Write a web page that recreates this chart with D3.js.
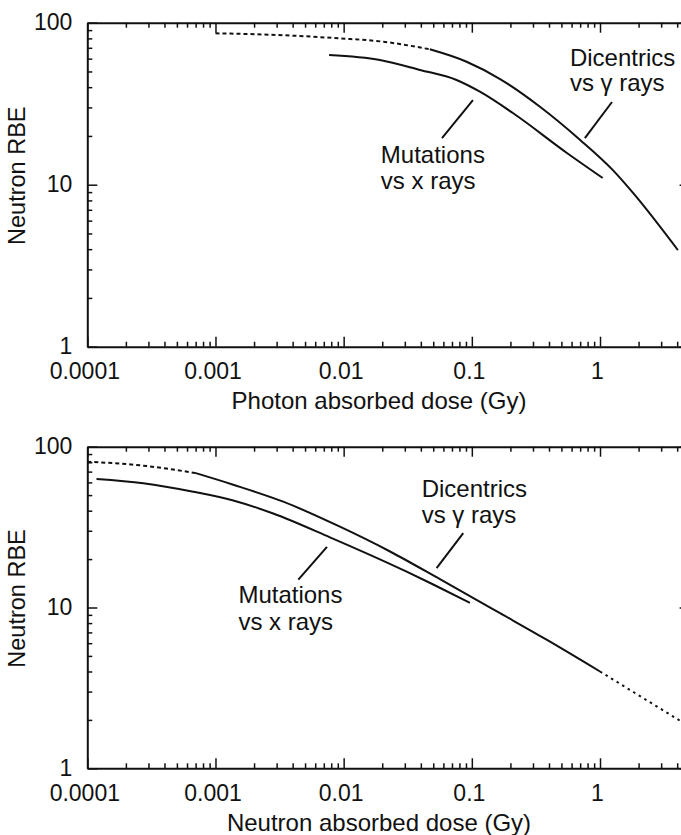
<!DOCTYPE html>
<html>
<head>
<meta charset="utf-8">
<script src="https://cdn.jsdelivr.net/npm/d3@7"></script>
<style>
  html, body { margin: 0; padding: 0; background: #fff; }
  svg { display: block; }
  text { font-family: "Liberation Sans", Arial, sans-serif; fill: #111; }
</style>
</head>
<body>
<svg id="chart" width="681" height="835"></svg>
<script>
// ---------- DATA ----------
const xTickValues = [0.0001, 0.001, 0.01, 0.1, 1];
const xTickLabels = ["0.0001", "0.001", "0.01", "0.1", "1"];
const yTickValues = [1, 10, 100];
const yTickLabels = ["1", "10", "100"];

// Top panel: photon absorbed dose
const topDicDashX = [0.001, 0.003, 0.0094, 0.0204, 0.047];
const topDicDashY = [86, 84, 80, 76.3, 68.5];
const topDicX = [0.047, 0.091, 0.166, 0.34, 0.70, 1.26, 1.81, 4.05];
const topDicY = [68.5, 57.4, 44.9, 30.3, 18.9, 12.3, 8.9, 3.95];
const topMutX = [0.0077, 0.0192, 0.0394, 0.076, 0.1156, 0.209, 0.552, 1.05];
const topMutY = [63.2, 58.9, 51.1, 44.3, 37.5, 27.7, 15.7, 11.0];

// Bottom panel: neutron absorbed dose
const botDicDashX = [0.0001, 0.000273, 0.000692];
const botDicDashY = [80.7, 76.2, 68.7];
const botDicX = [0.000692, 0.001377, 0.00338, 0.00935, 0.0230, 0.0564, 0.166, 0.383, 1.0];
const botDicY = [68.7, 58.0, 45.5, 31.8, 22.3, 15.0, 9.22, 6.31, 4.0];
const botDicDotX = [1.0, 4.28];
const botDicDotY = [4.0, 1.96];
const botMutX = [0.000118, 0.000273, 0.000671, 0.001377, 0.00282, 0.00782, 0.031, 0.05, 0.0966];
const botMutY = [63.0, 59.3, 52.5, 46.3, 38.4, 27.3, 16.7, 13.9, 10.7];

// Annotations (data coordinates)
const topLabels = [
  { lines: ["Dicentrics", "vs \u03b3 rays"], x: 0.582, y: 54.3 },
  { lines: ["Mutations", "vs x rays"], x: 0.0195, y: 13.55 }
];
const topLeaders = [
  { x1: 1.24, y1: 32.4, x2: 0.762, y2: 19.4 },
  { x1: 0.102, y1: 33.3, x2: 0.0585, y2: 19.4 }
];
const botLabels = [
  { lines: ["Dicentrics", "vs \u03b3 rays"], x: 0.0406, y: 48.9 },
  { lines: ["Mutations", "vs x rays"], x: 0.00151, y: 10.65 }
];
const botLeaders = [
  { x1: 0.0857, y1: 29.0, x2: 0.0531, y2: 17.6 },
  { x1: 0.00741, y1: 23.8, x2: 0.00443, y2: 14.9 }
];

const panels = [
  {
    top: 22.7, bottom: 346.7, xTitle: "Photon absorbed dose (Gy)",
    series: [
      { x: topDicDashX, y: topDicDashY, dash: "4,3" },
      { x: topDicX, y: topDicY, dash: null },
      { x: topMutX, y: topMutY, dash: null }
    ],
    labels: topLabels, leaders: topLeaders, lineGap: 25.5
  },
  {
    top: 446.7, bottom: 768.3, xTitle: "Neutron absorbed dose (Gy)",
    series: [
      { x: botDicDashX, y: botDicDashY, dash: "4,3" },
      { x: botDicX, y: botDicY, dash: null },
      { x: botDicDotX, y: botDicDotY, dash: "2.5,4" },
      { x: botMutX, y: botMutY, dash: null }
    ],
    labels: botLabels, leaders: botLeaders, lineGap: 26.7
  }
];

// ---------- DRAW ----------
const svg = d3.select("#chart");
svg.append("rect").attr("width", 681).attr("height", 835).attr("fill", "#fff");

const left = 87.3, right = 689.6;
const xDomain = [0.0001, 5];
const yDomain = [1, 100];
const FONT = '"Liberation Sans", Arial, sans-serif';

function minorTicks(lo, hi) {
  const out = [];
  for (let d = lo; d < hi; d *= 10) {
    for (let k = 2; k <= 9; k++) out.push(d * k);
  }
  return out;
}
const xMinor = minorTicks(0.0001, 10).filter(v => v <= 5);
const yMinor = minorTicks(1, 100);

panels.forEach(p => {
  const x = d3.scaleLog().domain(xDomain).range([left, right]);
  const y = d3.scaleLog().domain(yDomain).range([p.bottom, p.top]);
  const g = svg.append("g");

  function styleAxis(sel) {
    sel.select(".domain").attr("stroke", "#111").attr("stroke-width", 2);
    sel.selectAll(".tick line").attr("stroke", "#111").attr("stroke-width", 1.5);
  }

  // Bottom axis (ticks inward)
  const xb = g.append("g").attr("transform", `translate(0,${p.bottom})`)
    .call(d3.axisBottom(x).tickValues(xTickValues).tickSizeInner(-10).tickSizeOuter(0)
      .tickFormat((d, i) => xTickLabels[i]));
  styleAxis(xb);
  xb.selectAll(".tick text").attr("y", 32.5).attr("dy", 0).attr("x", -3)
    .attr("font-size", 23).style("font-family", FONT).attr("fill", "#111");
  const xbm = g.append("g").attr("transform", `translate(0,${p.bottom})`)
    .call(d3.axisBottom(x).tickValues(xMinor).tickSizeInner(-5).tickSizeOuter(0).tickFormat(""));
  styleAxis(xbm);
  xbm.select(".domain").remove();

  // Top axis
  const xt = g.append("g").attr("transform", `translate(0,${p.top})`)
    .call(d3.axisTop(x).tickValues(xTickValues).tickSizeInner(-10).tickSizeOuter(0).tickFormat(""));
  styleAxis(xt);
  const xtm = g.append("g").attr("transform", `translate(0,${p.top})`)
    .call(d3.axisTop(x).tickValues(xMinor).tickSizeInner(-5).tickSizeOuter(0).tickFormat(""));
  styleAxis(xtm);
  xtm.select(".domain").remove();

  // Left axis
  const yl = g.append("g").attr("transform", `translate(${left},0)`)
    .call(d3.axisLeft(y).tickValues(yTickValues).tickSizeInner(-10).tickSizeOuter(0)
      .tickFormat((d, i) => yTickLabels[i]));
  styleAxis(yl);
  yl.selectAll(".tick text").attr("x", -15).attr("dy", "0.3em")
    .attr("font-size", 23).style("font-family", FONT).attr("fill", "#111");
  const ylm = g.append("g").attr("transform", `translate(${left},0)`)
    .call(d3.axisLeft(y).tickValues(yMinor).tickSizeInner(-5).tickSizeOuter(0).tickFormat(""));
  styleAxis(ylm);
  ylm.select(".domain").remove();

  // Right axis
  const yr = g.append("g").attr("transform", `translate(${right},0)`)
    .call(d3.axisRight(y).tickValues(yTickValues).tickSizeInner(-10).tickSizeOuter(0).tickFormat(""));
  styleAxis(yr);
  const yrm = g.append("g").attr("transform", `translate(${right},0)`)
    .call(d3.axisRight(y).tickValues(yMinor).tickSizeInner(-5).tickSizeOuter(0).tickFormat(""));
  styleAxis(yrm);
  yrm.select(".domain").remove();

  // Axis titles
  g.append("text").attr("x", 379).attr("y", p.bottom + 62.5)
    .attr("text-anchor", "middle").attr("font-size", 24).text(p.xTitle);
  const cy = (p.top + p.bottom) / 2 - 9;
  g.append("text").attr("transform", `translate(25,${cy}) rotate(-90)`)
    .attr("text-anchor", "middle").attr("font-size", 23.5).text("Neutron RBE");

  // Curves
  const line = d3.line().curve(d3.curveMonotoneX).x(d => x(d[0])).y(d => y(d[1]));
  p.series.forEach(s => {
    const pts = s.x.map((v, i) => [v, s.y[i]]);
    g.append("path").attr("d", line(pts)).attr("fill", "none")
      .attr("stroke", "#111").attr("stroke-width", 2)
      .attr("stroke-dasharray", s.dash);
  });

  // Leader lines
  p.leaders.forEach(l => {
    g.append("line").attr("x1", x(l.x1)).attr("y1", y(l.y1))
      .attr("x2", x(l.x2)).attr("y2", y(l.y2))
      .attr("stroke", "#111").attr("stroke-width", 2);
  });

  // Labels
  p.labels.forEach(lb => {
    const t = g.append("text").attr("x", x(lb.x)).attr("y", y(lb.y)).attr("font-size", 24);
    lb.lines.forEach((ln, i) => {
      t.append("tspan").attr("x", x(lb.x)).attr("dy", i === 0 ? 0 : p.lineGap).text(ln);
    });
  });
});
</script>
</body>
</html>
